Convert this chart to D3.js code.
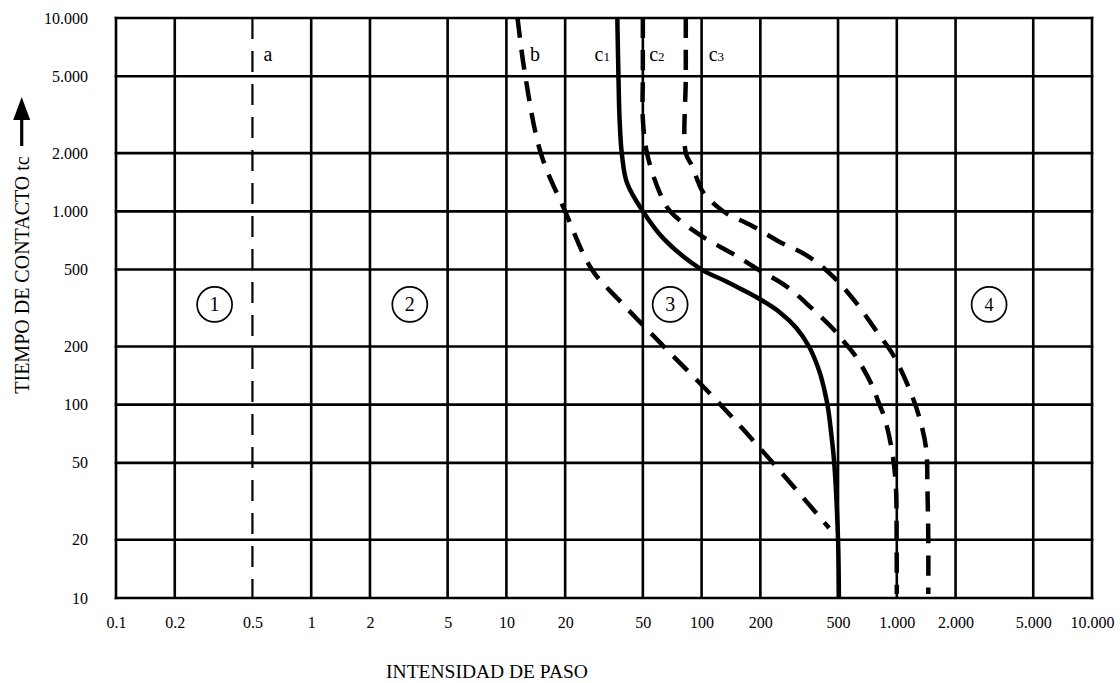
<!DOCTYPE html>
<html><head><meta charset="utf-8">
<script src="https://cdn.jsdelivr.net/npm/d3@7"></script>
<style>
html,body{margin:0;padding:0;background:#fff;}
svg{display:block;}
text{font-family:"Liberation Serif","Times New Roman",serif;fill:#000;}
</style></head><body>
<svg id="chart" width="1120" height="683"></svg>
<script>
// ---- data ----
const xTicks = [0.1,0.2,0.5,1,2,5,10,20,50,100,200,500,1000,2000,5000,10000];
const xTickLabels = ["0.1","0.2","0.5","1","2","5","10","20","50","100","200","500","1.000","2.000","5.000","10.000"];
const xGrid = [0.2,1,2,5,10,20,50,100,200,500,1000,2000,5000];
const yTicks = [10,20,50,100,200,500,1000,2000,5000,10000];
const yTickLabels = ["10","20","50","100","200","500","1.000","2.000","5.000","10.000"];

// curves: [intensity, time]
const curveA = [[0.5,10000],[0.5,10]];
const curveB = [[11.4,10000],[12.5,5000],[15,2000],[20,1000],[27.4,500],[37.5,350],[64,200],[125,100],[232,50],[450,23]];
const curveC1 = [[37,10000],[37.5,5000],[38,3000],[39,2000],[41.5,1400],[50,1000],[64,720],[100,500],[130,440],[158,398],[200,350],[252,300],[305,250],[355,200],[400,150],[425,120],[445,95],[462,70],[478,50],[500,20],[505,10]];
const curveC2 = [[50,10000],[50,5000],[50,3000],[52.5,2000],[61,1250],[69,1000],[99,750],[146,600],[195,500],[273,408],[367,315],[475,245],[531,214],[613,179],[741,128],[800,105],[870,84],[955,54],[990,37],[998,20],[1000,10.5]];
const curveC3 = [[83,10000],[83,5000],[83,2000],[89,1730],[96,1420],[102,1250],[122,1045],[137,963],[178,850],[246,703],[355,582],[475,457],[620,336],[787,240],[964,179],[1154,122],[1300,87],[1414,59],[1435,37],[1450,20],[1450,10.5]];

const curveNames = ["a","b","c","c","c"];
const curveSubs = ["","","1","2","3"];
const curveLabelX = [0.6,14,31,59,119];
const curveLabelT = 6000;

const zoneNames = ["1","2","3","4"];
const zoneX = [0.32,3.2,69,2970];
const zoneT = 330;

const xTitle = "INTENSIDAD DE PASO";
const yTitle = "TIEMPO DE CONTACTO tc";

// ---- chart ----
const svg = d3.select("#chart");
const x = d3.scaleLog().domain([0.1,10000]).range([116,1092]);
const y = d3.scaleLog().domain([10,10000]).range([598,18]);

const gridW = 2.6;
const grid = svg.append("g").attr("stroke","#000").attr("stroke-width",gridW);
grid.selectAll("line.v").data(xGrid).join("line").attr("class","v")
  .attr("x1",d=>x(d)).attr("x2",d=>x(d)).attr("y1",y(10)).attr("y2",y(10000));
grid.selectAll("line.h").data(yTicks).join("line").attr("class","h")
  .attr("x1",x(0.1)-gridW/2).attr("x2",x(10000)+gridW/2).attr("y1",d=>y(d)).attr("y2",d=>y(d));
grid.append("line").attr("x1",x(0.1)).attr("x2",x(0.1)).attr("y1",y(10)+gridW/2).attr("y2",y(10000)-gridW/2);
grid.append("line").attr("x1",x(10000)).attr("x2",x(10000)).attr("y1",y(10)+gridW/2).attr("y2",y(10000)-gridW/2);

// axes
const xAxis = d3.axisBottom(x).tickValues(xTicks).tickSize(0).tickPadding(19)
  .tickFormat((d,i)=>xTickLabels[i]);
const gx = svg.append("g").attr("transform",`translate(0,${y(10)})`).call(xAxis);
gx.select(".domain").remove();
gx.selectAll("text").attr("font-family","'Liberation Serif','Times New Roman',serif").attr("font-size",16);

const yAxis = d3.axisLeft(y).tickValues(yTicks).tickSize(0).tickPadding(28)
  .tickFormat((d,i)=>yTickLabels[i]);
const gy = svg.append("g").attr("transform",`translate(${x(0.1)},0)`).call(yAxis);
gy.select(".domain").remove();
gy.selectAll("text").attr("font-family","'Liberation Serif','Times New Roman',serif").attr("font-size",16);

// curves
const line = d3.line().x(d=>x(d[0])).y(d=>y(d[1])).curve(d3.curveCatmullRom.alpha(0.5));
const curves = [
  {data:curveA, w:2.2, dash:"21,12"},
  {data:curveB, w:4.5, dash:"20,12"},
  {data:curveC1, w:4.5, dash:null},
  {data:curveC2, w:4.5, dash:"20,12"},
  {data:curveC3, w:4.5, dash:"20,12"}
];
svg.append("g").selectAll("path").data(curves).join("path")
  .attr("d",d=>line(d.data)).attr("fill","none").attr("stroke","#000")
  .attr("stroke-width",d=>d.w).attr("stroke-dasharray",d=>d.dash);

// curve labels
const lab = svg.append("g").selectAll("text").data(curveNames).join("text")
  .attr("x",(d,i)=>x(curveLabelX[i])).attr("y",y(curveLabelT))
  .attr("text-anchor","middle").attr("font-size",20);
lab.append("tspan").text(d=>d);
lab.append("tspan").attr("font-size",13).text((d,i)=>curveSubs[i]);

// zone circles
const zones = svg.append("g").selectAll("g").data(zoneNames).join("g")
  .attr("transform",(d,i)=>`translate(${x(zoneX[i])},${y(zoneT)})`);
zones.append("circle").attr("r",17.5).attr("fill","#fff").attr("stroke","#000").attr("stroke-width",1.7);
zones.append("text").attr("text-anchor","middle").attr("dy","0.35em")
  .attr("font-size",(d,i)=>i===3?18:20)
  .attr("font-family",(d,i)=>i===3?"'Liberation Sans',Arial,sans-serif":"'Liberation Serif','Times New Roman',serif")
  .text(d=>d);

// axis titles
svg.append("text").attr("x",487).attr("y",678).attr("text-anchor","middle")
  .attr("font-size",19.5).text(xTitle);
svg.append("text").attr("transform","translate(29,275) rotate(-90)").attr("text-anchor","middle")
  .attr("font-size",20).text(yTitle);
// arrow
svg.append("line").attr("x1",21.7).attr("x2",21.7).attr("y1",146).attr("y2",118)
  .attr("stroke","#000").attr("stroke-width",3.2);
svg.append("path").attr("d","M21.7,97 L13.2,120 L30.2,120 Z").attr("fill","#000");
</script>
</body></html>
